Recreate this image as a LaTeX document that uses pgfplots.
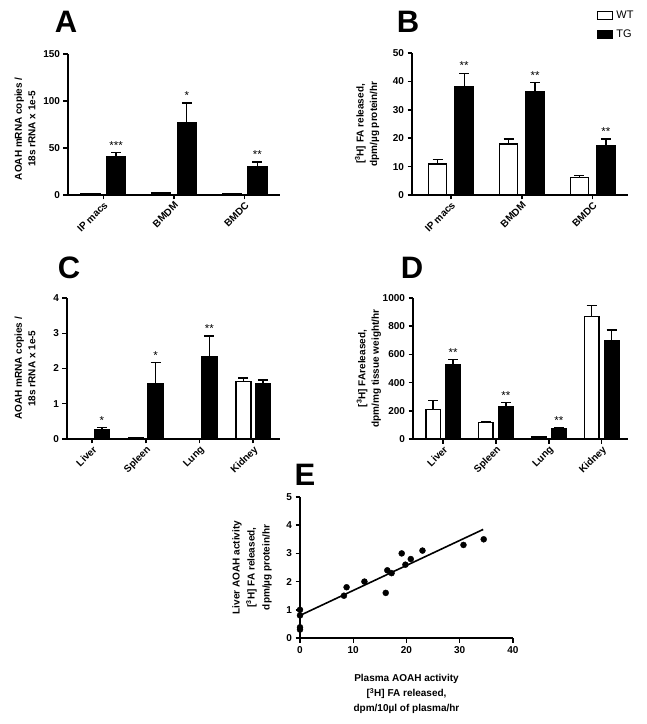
\documentclass[border=0pt]{standalone}
\usepackage{fontspec}
\setmainfont{Liberation Sans}
\usepackage{pgfplots}
\pgfplotsset{compat=1.18}

\newcommand{\tickfont}{\bfseries\fontsize{10}{11}\selectfont}
\newcommand{\labfont}{\bfseries\fontsize{10}{13.5}\selectfont}
\newcommand{\starfont}{\fontsize{11.5}{10}\selectfont}
\newcommand{\panfont}{\bfseries\fontsize{31}{31}\selectfont}

\pgfplotsset{
  prism/.style={
    scale only axis,
    axis lines*=left,
    axis line style={line width=1.9pt},
    every tick/.style={line width=1.5pt, black},
    major tick length=4.5pt,
    tick align=outside,
    /pgf/number format/assume math mode=true,
    /pgf/number format/1000 sep={},
    ticklabel style={font=\tickfont},
    label style={font=\labfont, align=center},
    clip=false,
  },
  bars/.style={
    prism, ybar, ymin=0,
    xticklabel style={rotate=45, anchor=north east, inner sep=1pt},
  },
  errs/.style={
    /pgfplots/error bars/y dir=plus,
    /pgfplots/error bars/y explicit,
    /pgfplots/error bars/error bar style={line width=1.4pt},
    /pgfplots/error bars/error mark options={rotate=90, line width=1.4pt, mark size=5pt}},
  wt/.style={draw=black, fill=white, line width=1.5pt, errs},
  tg/.style={draw=black, fill=black, line width=1.5pt, errs},
  stars/.style={draw=none, fill=none, forget plot,
    nodes near coords, point meta=explicit symbolic,
    nodes near coords style={font=\starfont, anchor=south, inner sep=0pt, yshift=3pt}},
}

\begin{document}
\begin{tikzpicture}[x=1pt,y=1pt]
\useasboundingbox (0,0) rectangle (647,724);

% panel letters
\node[font=\panfont] at (66,702) {A};
\node[font=\panfont] at (408,702) {B};
\node[font=\panfont] at (69,456) {C};
\node[font=\panfont] at (412,456) {D};
\node[font=\panfont] at (305,249) {E};

% ---- A ----
\begin{axis}[bars, at={(68pt,529pt)}, anchor=south west,
  width=212pt, height=141pt,
  xmin=-0.5, xmax=2.5, ymax=150, ytick={0,50,100,150},
  xtick={0,1,2}, xticklabels={IP macs,BMDM,BMDC},
  bar width=19pt,
  ylabel={AOAH mRNA copies /\\18s rRNA x 1e-5},
  ylabel style={at={(axis description cs:-0.203,0.47)}, anchor=center},
]
\addplot[wt, bar shift=-12.75pt] table[x=x, y=y, y error=e] {
x y e
0 1.5 0
1 2 0
2 1.5 0
};
\addplot[tg, bar shift=12.75pt] table[x=x, y=y, y error=e] {
x y e
0 41 4
1 77 21
2 30 5
};
\addplot[stars, bar shift=12.75pt] table[x=x, y=y, meta=s] {
x y s
0 45 ***
1 98 *
2 35 **
};
\end{axis}

% ---- B ----
\begin{axis}[bars, at={(412pt,529pt)}, anchor=south west,
  width=216pt, height=142pt,
  xmin=-0.55, xmax=2.5, ymax=50, ytick={0,10,...,50},
  xtick={0,1,2}, xticklabels={IP macs,BMDM,BMDC},
  bar width=18pt,
  ylabel={[\textsuperscript{3}H] FA released,\\dpm/µg protein/hr},
  ylabel style={at={(axis description cs:-0.208,0.5)}, anchor=center},
  legend style={at={(rel axis cs:0.856,1.317)}, anchor=north west,
    draw=none, fill=none, inner sep=0pt, row sep=4pt,
    font=\fontsize{11}{12}\selectfont, cells={anchor=west},
    nodes={inner sep=3pt}},
]
\addlegendimage{legend image code/.code={\draw[draw=black, fill=white, line width=1.3pt] (0pt,-4pt) rectangle (15pt,4pt);}}
\addlegendentry{WT}
\addlegendimage{legend image code/.code={\draw[draw=black, fill=black, line width=1.3pt] (0pt,-4pt) rectangle (15pt,4pt);}}
\addlegendentry{TG}
\addplot[wt, bar shift=-13.25pt] table[x=x, y=y, y error=e] {
x y e
0 11 1.5
1 18 1.7
2 6.2 0.6
};
\addplot[tg, bar shift=13.25pt] table[x=x, y=y, y error=e] {
x y e
0 38 4.8
1 36.5 3.2
2 17.3 2.4
};
\addplot[stars, bar shift=13.25pt] table[x=x, y=y, meta=s] {
x y s
0 43 **
1 39.7 **
2 19.7 **
};
\end{axis}

% ---- C ----
\begin{axis}[bars, at={(67pt,285pt)}, anchor=south west,
  width=213pt, height=141pt,
  xmin=-0.47, xmax=3.5, ymax=4, ytick={0,1,2,3,4},
  xtick={0,1,2,3}, xticklabels={Liver,Spleen,Lung,Kidney},
  bar width=15pt,
  ylabel={AOAH mRNA copies /\\18s rRNA x 1e-5},
  ylabel style={at={(axis description cs:-0.197,0.5)}, anchor=center},
]
\addplot[wt, bar shift=-9.75pt] table[x=x, y=y, y error=e] {
x y e
0 0.02 0
1 0.04 0
2 0.02 0
3 1.63 0.10
};
\addplot[tg, bar shift=9.75pt] table[x=x, y=y, y error=e] {
x y e
0 0.25 0.07
1 1.58 0.59
2 2.32 0.60
3 1.58 0.09
};
\addplot[stars, bar shift=9.75pt] table[x=x, y=y, meta=s] {
x y s
0 0.32 *
1 2.17 *
2 2.92 **
};
\end{axis}

% ---- D ----
\begin{axis}[bars, at={(413pt,285pt)}, anchor=south west,
  width=215pt, height=141pt,
  xmin=-0.57, xmax=3.5, ymax=1000, ytick={0,200,...,1000},
  xtick={0,1,2,3}, xticklabels={Liver,Spleen,Lung,Kidney},
  bar width=14.5pt,
  ylabel={[\textsuperscript{3}H] FAreleased,\\dpm/mg tissue weight/hr},
  ylabel style={at={(axis description cs:-0.205,0.5)}, anchor=center},
]
\addplot[wt, bar shift=-10pt] table[x=x, y=y, y error=e] {
x y e
0 210 65
1 118 7
2 15 3
3 870 75
};
\addplot[tg, bar shift=10pt] table[x=x, y=y, y error=e] {
x y e
0 525 40
1 232 28
2 70 10
3 700 72
};
\addplot[stars, bar shift=10pt] table[x=x, y=y, meta=s] {
x y s
0 565 **
1 260 **
2 80 **
};
\end{axis}

% ---- E ----
\begin{axis}[prism, at={(300pt,86pt)}, anchor=south west,
  width=213pt, height=141pt,
  xmin=0, xmax=40, ymin=0, ymax=5,
  xtick={0,10,...,40}, ytick={0,1,...,5},
  ylabel={Liver AOAH activity\\{}[\textsuperscript{3}H] FA released,\\dpm/µg protein/hr},
  ylabel style={at={(axis description cs:-0.225,0.5)}, anchor=center, font=\bfseries\fontsize{10}{15}\selectfont},
  xlabel={Plasma AOAH activity\\{}[\textsuperscript{3}H] FA released,\\dpm/10µl of plasma/hr},
  xlabel style={at={(axis description cs:0.5,0)}, anchor=north, yshift=-33pt, font=\bfseries\fontsize{10}{15}\selectfont},
]
\addplot[only marks, mark=*, mark size=3pt, black] coordinates {
(0,1.0) (0,0.8) (0,0.38) (0,0.3)
(8.25,1.5) (8.75,1.8) (12.1,2.0) (16.1,1.6) (16.4,2.4) (17.2,2.3)
(19.1,3.0) (19.8,2.6) (20.8,2.8) (23.0,3.1) (30.7,3.3) (34.5,3.5)
};
\addplot[black, line width=1.6pt] coordinates {(0,0.8) (34.4,3.85)};
\end{axis}
\end{tikzpicture}
\end{document}
